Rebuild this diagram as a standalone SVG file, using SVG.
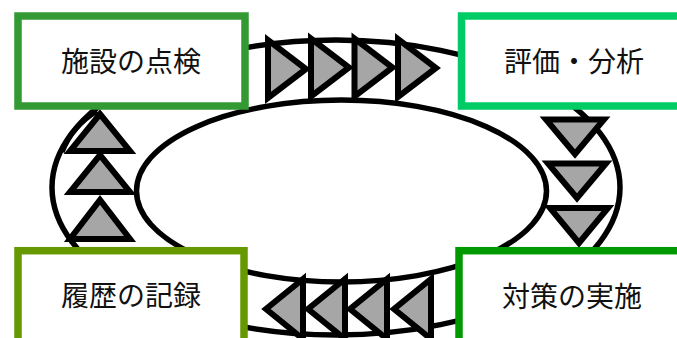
<svg xmlns="http://www.w3.org/2000/svg" width="677" height="338" viewBox="0 0 677 338">
<style>
.ring{fill:none;stroke:#000;stroke-width:5.5}
.tri{fill:#A6A6A6;stroke:#000;stroke-width:6;stroke-linejoin:miter}
.box{fill:#fff;stroke-width:7.5}
.lbl{font-family:"Noto Sans CJK JP","Noto Sans",sans-serif;font-size:28px;fill:#111;text-anchor:middle;dominant-baseline:central}
</style>
<rect width="677" height="338" fill="#fff"/>
<g id="connectors">
<ellipse class="ring" cx="336" cy="187.5" rx="284" ry="147.5"/>
<ellipse class="ring" cx="341.5" cy="191" rx="205" ry="91"/>
<path class="ring" d="M97 111 Q72 126 62 152"/>
<g id="arrows-top">
<polygon class="tri" points="268,40 268,98 306,69"/>
<polygon class="tri" points="311,38.5 311,96.5 349,67.5"/>
<polygon class="tri" points="354.5,38.5 354.5,96.5 392.5,67.5"/>
<polygon class="tri" points="398,39 398,97 436,68"/>
</g>
<g id="arrows-right">
<polygon class="tri" points="546,119.5 604,119.5 575,154"/>
<polygon class="tri" points="548,163.5 606,163.5 577,198"/>
<polygon class="tri" points="550,208 608,208 579,243"/>
</g>
<g id="arrows-bottom">
<polygon class="tri" points="431,279 431,339 394,309"/>
<polygon class="tri" points="387,279 387,339 350,309"/>
<polygon class="tri" points="345,279 345,339 308,309"/>
<polygon class="tri" points="303,279 303,339 266,309"/>
</g>
<g id="arrows-left">
<polygon class="tri" points="70,239 130,239 100,200"/>
<polygon class="tri" points="70,192 130,192 100,155"/>
<polygon class="tri" points="70,151 130,151 100,114"/>
</g>
</g>
<g id="node-inspect">
<rect class="box" x="18" y="16" width="227" height="90" stroke="#339933"/>
<text class="lbl" x="131" y="60">施設の点検</text>
</g>
<g id="node-evaluate">
<rect class="box" x="461.5" y="16" width="227" height="90" stroke="#00CC66"/>
<text class="lbl" x="574" y="60">評価・分析</text>
</g>
<g id="node-record">
<rect class="box" x="18" y="250.7" width="226" height="95" stroke="#669900"/>
<text class="lbl" x="131" y="294">履歴の記録</text>
</g>
<g id="node-action">
<rect class="box" x="459" y="250.7" width="227" height="95" stroke="#009900"/>
<text class="lbl" x="572" y="294.5">対策の実施</text>
</g>
</svg>
